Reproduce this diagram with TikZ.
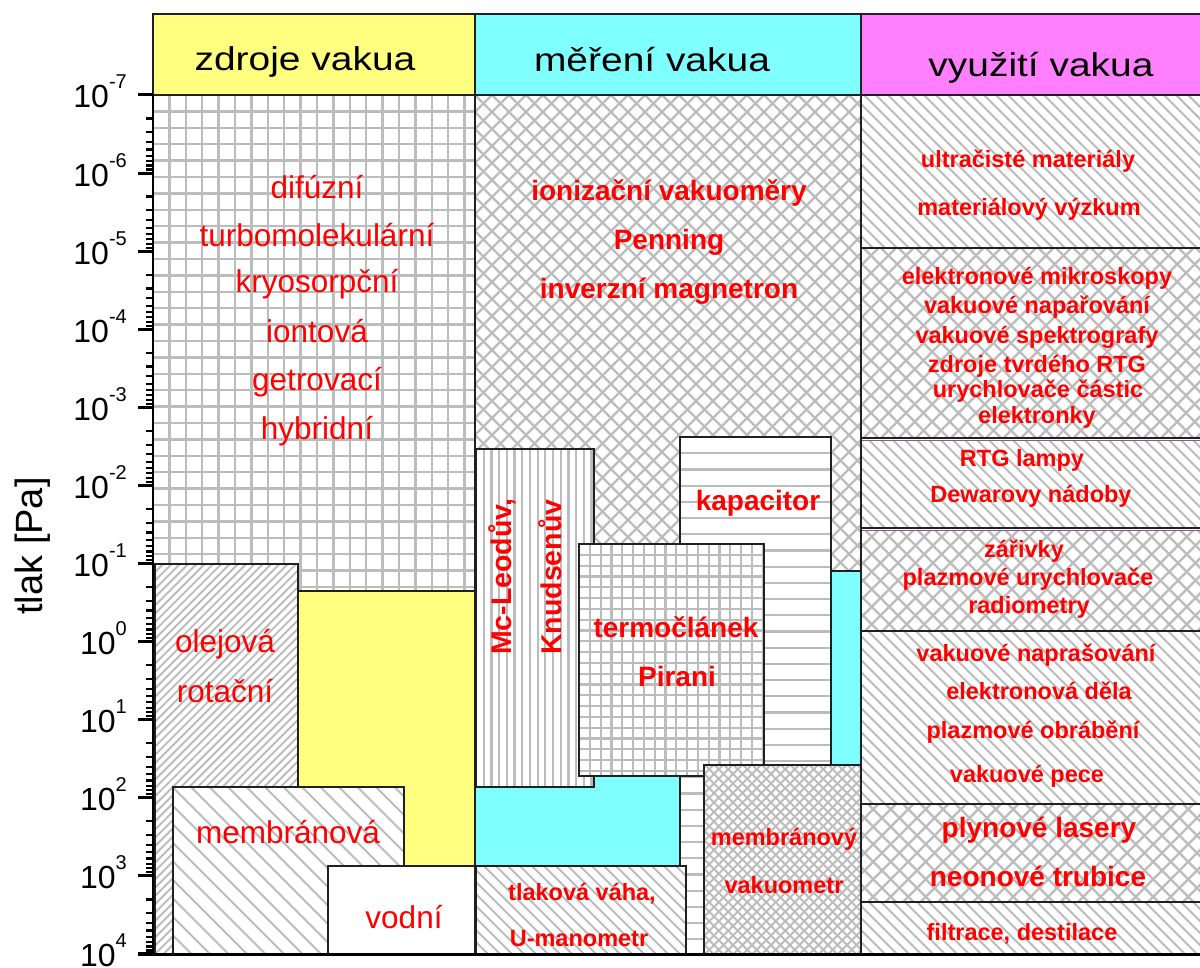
\documentclass[tikz,border=0pt]{standalone}
\usepackage{fontspec}
\setmainfont{Liberation Sans}
\definecolor{hy}{HTML}{FFFF80}
\definecolor{hcy}{HTML}{80FFFF}
\definecolor{hmg}{HTML}{FF80FF}
\definecolor{pat}{HTML}{BCBCBC}
\definecolor{edge}{HTML}{202020}
\definecolor{purp}{HTML}{8A5A8A}

\newcommand\hatchNW[6][2pt]{%
  \begin{scope}
    \clip (#2,#3) rectangle (#4,#5);
    \pgfmathsetmacro\hA{#2-#5}\pgfmathsetmacro\hB{#2-#5+#6}\pgfmathsetmacro\hE{#4-#3+#6}%
    \foreach \hc in {\hA,\hB,...,\hE}{\draw[draw=pat,line width=#1] (\hc+#3,#3) -- (\hc+#5,#5);}
  \end{scope}}
\newcommand\hatchNE[6][2pt]{%
  \begin{scope}
    \clip (#2,#3) rectangle (#4,#5);
    \pgfmathsetmacro\hA{#2+#3}\pgfmathsetmacro\hB{#2+#3+#6}\pgfmathsetmacro\hE{#4+#5+#6}%
    \foreach \hc in {\hA,\hB,...,\hE}{\draw[draw=pat,line width=#1] (\hc-#3,#3) -- (\hc-#5,#5);}
  \end{scope}}
\newcommand\vlinesP[6][2pt]{%
  \begin{scope}
    \clip (#2,#3) rectangle (#4,#5);
    \pgfmathsetmacro\hA{#2+#6}\pgfmathsetmacro\hB{#2+2*#6}\pgfmathsetmacro\hE{#4}%
    \foreach \hc in {\hA,\hB,...,\hE}{\draw[draw=pat,line width=#1] (\hc,#3) -- (\hc,#5);}
  \end{scope}}
\newcommand\hlinesP[6][2pt]{%
  \begin{scope}
    \clip (#2,#3) rectangle (#4,#5);
    \pgfmathsetmacro\hA{#3+#6}\pgfmathsetmacro\hB{#3+2*#6}\pgfmathsetmacro\hE{#5}%
    \foreach \hc in {\hA,\hB,...,\hE}{\draw[draw=pat,line width=#1] (#2,\hc) -- (#4,\hc);}
  \end{scope}}

\tikzset{
  boxedge/.style={draw=edge, line width=1.6pt},
  lab/.style={text=red, inner sep=0pt, anchor=base, font=\fontsize{31.5}{31.5}\selectfont},
  blab/.style={text=red, inner sep=0pt, anchor=base, font=\fontsize{28}{28}\selectfont\bfseries},
  slab/.style={text=red, inner sep=0pt, anchor=base, font=\fontsize{23.5}{23.5}\selectfont\bfseries},
  head/.style={inner sep=0pt, anchor=base, font=\fontsize{33}{33}\selectfont},
  ticklab/.style={inner sep=0pt, anchor=base east, font=\fontsize{32}{32}\selectfont},
}

\begin{document}
\begin{tikzpicture}[x=1pt,y=-1pt]
\useasboundingbox (0,0) rectangle (1200,968);
\fill[white] (0,0) rectangle (1200,968);

% ---------- headers
\filldraw[fill=hy, draw=edge, line width=2pt] (153,14) rectangle (475,95);
\filldraw[fill=hcy, draw=edge, line width=2pt] (475,14) rectangle (861,95);
\filldraw[fill=hmg, draw=edge, line width=2pt] (861,14) rectangle (1204,95);
\node[head] (h1) at (305,71) {\scalebox{1.18}[1]{zdroje vakua}};
\node[head] (h2) at (652,72) {\scalebox{1.18}[1]{měření vakua}};
\node[head] (h3) at (1041,77) {\scalebox{1.18}[1]{využití vakua}};

% ---------- column 1: zdroje vakua
\fill[white] (153,95) rectangle (475,954);
\vlinesP[2.3pt]{153}{95}{475}{591}{16.4}
\hlinesP[2.3pt]{153}{95}{475}{591}{16.4}
\draw[boxedge] (153,95) rectangle (475,954);

\fill[white] (155,564) rectangle (298,954);
\hatchNE[1.9pt]{155}{564}{298}{954}{8.3}
\draw[boxedge] (155,564) rectangle (298,954);

\filldraw[fill=hy, boxedge] (298,591) rectangle (475,954);

\fill[white] (173,787) rectangle (404,954);
\hatchNW[2.1pt]{173}{787}{404}{954}{18.5}
\draw[boxedge] (173,787) rectangle (404,954);

\filldraw[fill=white, boxedge] (328,866) rectangle (475,954);

\node[lab] (d1) at (317,199) {difúzní};
\node[lab] (d2) at (317,247) {turbomolekulární};
\node[lab] (d3) at (317,293) {kryosorpční};
\node[lab] (d4) at (317,343) {iontová};
\node[lab] (d5) at (317,391) {getrovací};
\node[lab] (d6) at (317,439) {hybridní};
\node[lab] (o1) at (225,652) {olejová};
\node[lab] (o2) at (225,702) {rotační};
\node[lab] (m1) at (288,843) {membránová};
\node[lab] (v1) at (404,928) {vodní};

% ---------- column 2: měření vakua
\fill[white] (475,95) rectangle (861,571);
\hatchNE[2.3pt]{475}{95}{861}{571}{17}
\hatchNW[2.3pt]{475}{95}{861}{571}{17}
\draw[boxedge] (475,95) rectangle (861,571);

\filldraw[fill=hcy, boxedge] (475,571) rectangle (861,866);

\fill[white] (476,449) rectangle (594,787);
\vlinesP[2.2pt]{476}{449}{594}{787}{7.7}
\draw[boxedge] (476,449) rectangle (594,787);

\fill[white] (680,437) rectangle (831,954);
\hlinesP[2.2pt]{680}{437}{831}{954}{16.2}
\draw[boxedge] (680,437) rectangle (831,954);

\fill[white] (579,544) rectangle (764,776);
\vlinesP[2.2pt]{579}{544}{764}{776}{10.8}
\hlinesP[2.2pt]{579}{544}{764}{776}{10.8}
\draw[boxedge] (579,544) rectangle (764,776);

\fill[white] (704,765) rectangle (861,954);
\hatchNE[1.9pt]{704}{765}{861}{954}{9.5}
\hatchNW[1.9pt]{704}{765}{861}{954}{9.5}
\draw[boxedge] (704,765) rectangle (861,954);

\fill[white] (476,866) rectangle (686,954);
\hatchNW[2pt]{476}{866}{686}{954}{12}
\draw[boxedge] (476,866) rectangle (686,954);

\node[blab] (i1) at (669,201) {ionizační vakuoměry};
\node[blab] (i2) at (669,250) {Penning};
\node[blab] (i3) at (669,299) {inverzní magnetron};
\node[blab, rotate=90, anchor=base west, font=\fontsize{28.5}{28.5}\selectfont\bfseries] (mc) at (511,655) {Mc-Leodův,};
\node[blab, rotate=90, anchor=base west, font=\fontsize{28.5}{28.5}\selectfont\bfseries] (kn) at (561,655) {Knudsenův};
\node[blab] (ka) at (758,510) {kapacitor};
\node[blab] (te) at (676,637) {termočlánek};
\node[blab] (pi) at (677,686) {Pirani};
\node[slab] (mv1) at (784,845) {membránový};
\node[slab] (mv2) at (784,893) {vakuometr};
\node[slab] (tv1) at (582,900) {tlaková váha,};
\node[slab] (tv2) at (579,946) {U-manometr};

% ---------- column 3: využití vakua
\fill[white] (861,95) rectangle (1204,954);
\hatchNW[2.1pt]{861}{95}{1204}{248}{12}
\hatchNE[2.3pt]{861}{248}{1204}{438}{17.5}
\hatchNW[2.3pt]{861}{248}{1204}{438}{17.5}
\hatchNW[2.1pt]{861}{440}{1204}{528}{12}
\hatchNE[2.3pt]{861}{530}{1204}{631}{17.5}
\hatchNW[2.3pt]{861}{530}{1204}{631}{17.5}
\hatchNW[2.1pt]{861}{631}{1204}{804}{12}
\hatchNE[2.3pt]{861}{804}{1204}{902}{17.5}
\hatchNW[2.3pt]{861}{804}{1204}{902}{17.5}
\hatchNW[2.1pt]{861}{902}{1204}{954}{12}
\draw[boxedge] (861,95) rectangle (1204,248);
\draw[boxedge] (861,248) rectangle (1204,438);
\draw[boxedge] (861,438) rectangle (1204,528);
\draw[boxedge] (861,528) rectangle (1204,631);
\draw[boxedge] (861,631) rectangle (1204,804);
\draw[boxedge] (861,804) rectangle (1204,902);
\draw[boxedge] (861,902) rectangle (1204,954);
\draw[purp, line width=1.2pt] (862,440.5) -- (1204,440.5);
\draw[purp, line width=1.2pt] (862,530.5) -- (1204,530.5);

\node[slab] (u1) at (1028,168) {ultračisté materiály};
\node[slab] (u2) at (1029,216) {materiálový výzkum};
\node[slab] (e1) at (1037,285) {elektronové mikroskopy};
\node[slab] (e2) at (1037,314) {vakuové napařování};
\node[slab] (e3) at (1037,344) {vakuové spektrografy};
\node[slab] (e4) at (1037,373) {zdroje tvrdého RTG};
\node[slab] (e5) at (1038,397) {urychlovače částic};
\node[slab] (e6) at (1037,423) {elektronky};
\node[slab] (r1) at (1022,466) {RTG lampy};
\node[slab] (r2) at (1031,502) {Dewarovy nádoby};
\node[slab] (z1) at (1024,557) {zářivky};
\node[slab] (z2) at (1028,585) {plazmové urychlovače};
\node[slab] (z3) at (1029,613) {radiometry};
\node[slab] (p1) at (1036,661) {vakuové naprašování};
\node[slab] (p2) at (1039,699) {elektronová děla};
\node[slab] (p3) at (1033,738) {plazmové obrábění};
\node[slab] (p4) at (1027,782) {vakuové pece};
\node[blab] (l1) at (1039,837) {plynové lasery};
\node[blab] (l2) at (1038,886) {neonové trubice};
\node[slab] (f1) at (1022,940) {filtrace, destilace};

% ---------- axis
\draw[draw=black, line width=2.5pt] (153,95) -- (153,955);
\draw[draw=black, line width=3pt] (138,954.5) -- (1204,954.5);
\foreach \i in {0,...,10}{
  \foreach \m in {2,...,9}{
    \pgfmathsetmacro\ty{95+(\i+log10(\m))*78.09}
    \draw[line width=2.2pt] (146,\ty) -- (153,\ty);
  }
}
\foreach \k [count=\i from 0] in {-7,...,4}{
  \pgfmathsetmacro\ty{95+\i*78.09}
  \draw[line width=3pt] (138,\ty) -- (153,\ty);
  \node[ticklab] (t\i) at (127,\ty+13) {10\raisebox{19pt}{\fontsize{20}{20}\selectfont\k}};
}
\node[rotate=90, anchor=base, inner sep=0pt, font=\fontsize{38}{38}\selectfont] (ylab) at (42,546) {tlak [Pa]};
\end{tikzpicture}
\end{document}
